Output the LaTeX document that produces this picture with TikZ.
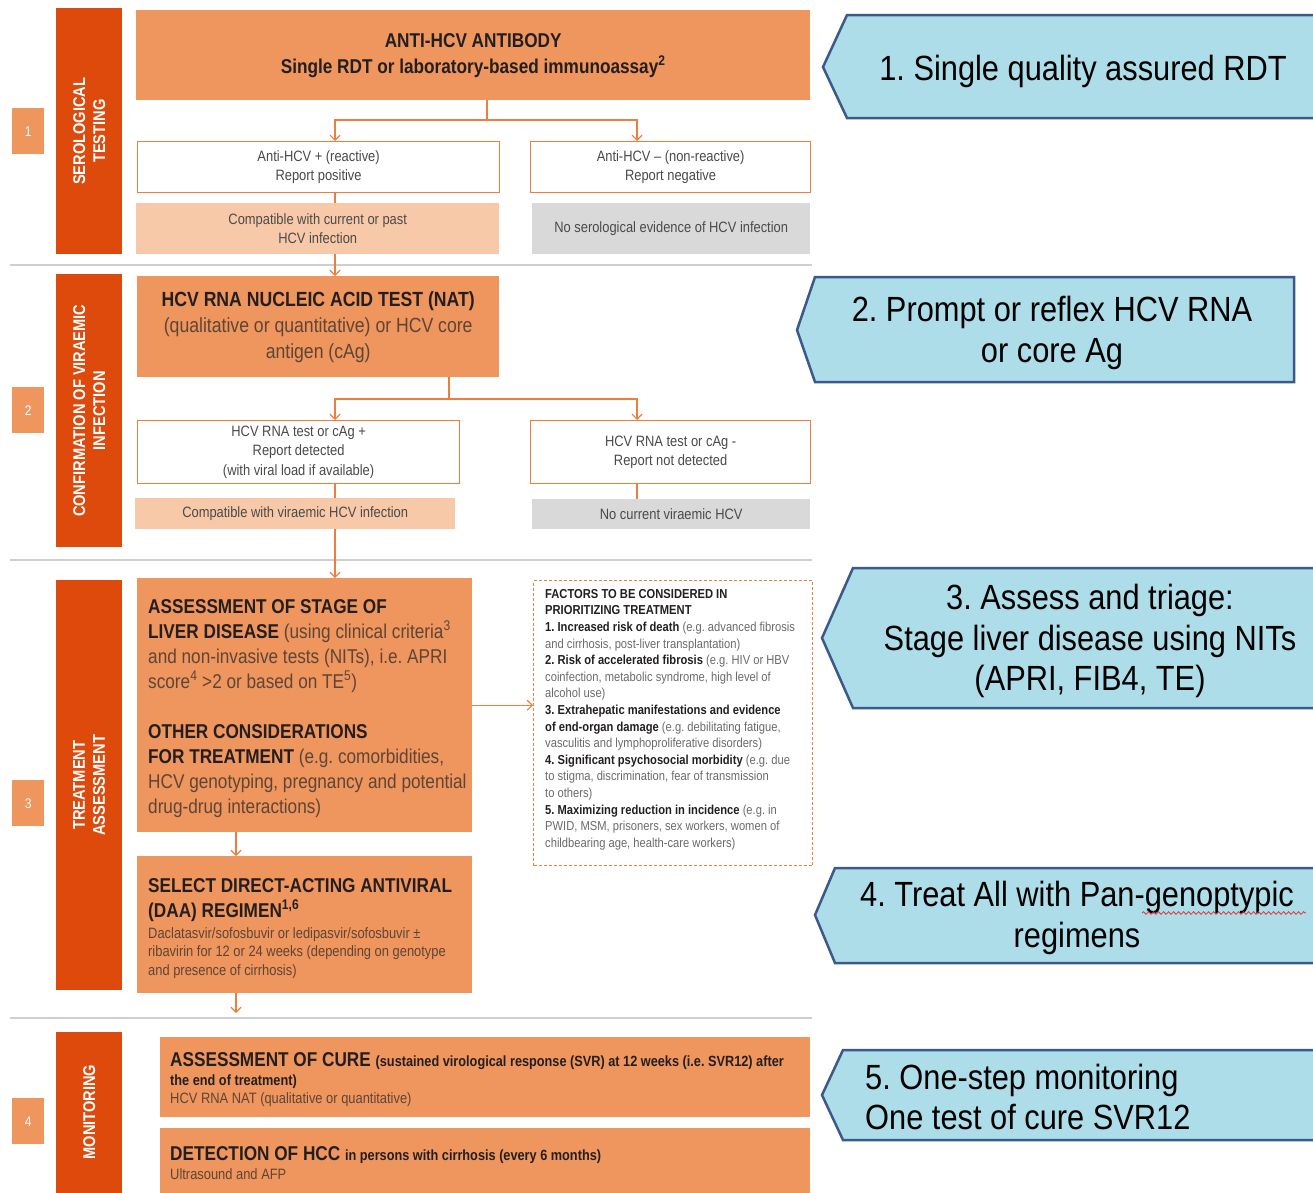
\documentclass[tikz,border=0pt]{standalone}
\usepackage{fontspec}
\usepackage{xcolor}
\usepackage{tikz}
\usetikzlibrary{arrows.meta,decorations.pathmorphing,positioning}
\newfontfamily\whofont[FakeStretch=0.86]{Liberation Sans}
\newfontfamily\cuefont[FakeStretch=0.88]{Liberation Sans}
\frenchspacing
\definecolor{whoDark}{HTML}{DE4A0C}
\definecolor{whoMid}{HTML}{EF955E}
\definecolor{whoPale}{HTML}{F8C9A8}
\definecolor{whoGrey}{HTML}{D9D9D9}
\definecolor{whoLine}{HTML}{EE7D40}
\definecolor{whoRule}{HTML}{CFCFCF}
\definecolor{whoInk}{HTML}{231F20}
\definecolor{whoSoft}{HTML}{5E4536}
\definecolor{whoNote}{HTML}{4A4A4A}
\definecolor{whoFaint}{HTML}{6A6A6A}
\definecolor{cueFill}{HTML}{ADDDE8}
\definecolor{cueDraw}{HTML}{3B5A8A}
\definecolor{cueRed}{HTML}{E03030}
\newcommand\whosoft[1]{{\mdseries\color{whoSoft}#1}}
\newcommand\whobold[1]{{\bfseries\color{whoInk}#1}}
\tikzset{
  who diagram/.style={x=1pt, y=-1pt, font=\whofont, text=whoInk},
  who bar/.style={fill=whoDark, anchor=north west, inner sep=0pt},
  who bar label/.style={rotate=90, text=white, align=center,
    font=\whofont\bfseries\fontsize{17}{20}\selectfont},
  who tab/.style={fill=whoMid, anchor=north west, minimum width=32,
    minimum height=46, inner sep=0pt, text=white,
    font=\whofont\fontsize{14}{16}\selectfont},
  who box/.style={fill=whoMid, anchor=north west, inner sep=0pt, align=center},
  who head/.style={font=\whofont\bfseries\fontsize{20}{26}\selectfont},
  who result/.style={draw=whoLine, fill=white, line width=1.2pt,
    anchor=north west, inner sep=0pt, align=center, text=whoNote,
    font=\whofont\fontsize{15}{19.5}\selectfont},
  who pale/.style={fill=whoPale, anchor=north west, inner sep=0pt,
    align=center, text=whoNote, font=\whofont\fontsize{15}{19.5}\selectfont},
  who grey/.style={who pale, fill=whoGrey},
  who text/.style={inner sep=0pt, align=left, text=whoInk,
    font=\whofont\bfseries\fontsize{20}{25}\selectfont},
  who detail/.style={inner sep=0pt, align=left, text=whoSoft,
    font=\whofont\fontsize{15}{18.5}\selectfont},
  who small/.style={inner sep=0pt, align=left, text=whoInk,
    font=\whofont\bfseries\fontsize{14.8}{18}\selectfont},
  who note/.style={inner sep=0pt, align=left, text=whoFaint,
    font=\whofont\fontsize{13}{16.6}\selectfont},
  who factors/.style={draw=whoLine, dash pattern=on 3pt off 2pt,
    line width=1pt, anchor=north west, inner sep=0pt},
  who line/.style={draw=whoLine, line width=1.2pt},
  who arrow/.style={who line, -{Straight Barb[length=5pt,width=10pt]}},
  who rule/.style={draw=whoRule, line width=2pt},
  cue/.style={fill=cueFill, draw=cueDraw, line width=2.5pt},
  cue text/.style={font=\cuefont\fontsize{35}{40.5}\selectfont, text=black,
    align=center, inner sep=0pt}
}

\begin{document}
\begin{tikzpicture}[who diagram]
\useasboundingbox (0,0) rectangle (1313,1192);
\draw[who rule] (10,265) -- (812,265);
\draw[who rule] (10,560) -- (812,560);
\draw[who rule] (10,1018) -- (812,1018);

% stage bars
\node[who bar, minimum width=66, minimum height=246] (bar1) at (56,8) {};
\node[who bar label] at (bar1) {SEROLOGICAL\\TESTING};
\node[who bar, minimum width=66, minimum height=273] (bar2) at (56,274) {};
\node[who bar label] at (bar2) {CONFIRMATION OF VIRAEMIC\\INFECTION};
\node[who bar, minimum width=66, minimum height=410] (bar3) at (56,580) {};
\node[who bar label] at (bar3) {TREATMENT\\ASSESSMENT};
\node[who bar, minimum width=66, minimum height=170] (bar4) at (56,1032) {};
\node[who bar label] at ([yshift=-80pt]bar4.north) {MONITORING};
\node[who tab] (tab1) at (12,108) {1};
\node[who tab] (tab2) at (12,387) {2};
\node[who tab] (tab3) at (12,780) {3};
\node[who tab] (tab4) at (12,1098) {4};

% serological testing
\node[who box, who head, minimum width=674, minimum height=90] (anti) at (136,10)
  {ANTI-HCV ANTIBODY\\Single RDT or laboratory-based immunoassay\textsuperscript{2}};
\node[who result, minimum width=362, minimum height=51] (pos) at (137,141)
  {Anti-HCV + (reactive)\\Report positive};
\node[who result, minimum width=280, minimum height=51] (neg) at (530,141)
  {Anti-HCV – (non-reactive)\\Report negative};
\node[who pale, minimum width=363, minimum height=51] (compat) at (136,203)
  {Compatible with current or past\\HCV infection};
\node[who grey, minimum width=278, minimum height=51] (noser) at (532,203)
  {No serological evidence of HCV infection};

% viraemic infection
\node[who box, minimum width=362, minimum height=101,
  font=\whofont\fontsize{20.5}{26}\selectfont] (nat) at (137,276)
  {\textbf{HCV RNA NUCLEIC ACID TEST (NAT)}\\
   \whosoft{(qualitative or quantitative) or HCV core}\\\whosoft{antigen (cAg)}};
\node[who result, minimum width=322, minimum height=63] (det) at (137,420)
  {HCV RNA test or cAg +\\Report detected\\(with viral load if available)};
\node[who result, minimum width=280, minimum height=63] (ndet) at (530,420)
  {HCV RNA test or cAg -\\Report not detected};
\node[who pale, minimum width=320, minimum height=31] (viraemic) at (135,498)
  {Compatible with viraemic HCV infection};
\node[who grey, minimum width=278, minimum height=30] (nocur) at (532,499)
  {No current viraemic HCV};

% treatment assessment
\node[who box, minimum width=335, minimum height=254] (assess) at (137,578) {};
\node[who text, anchor=north west] (assesstxt) at (148,599)
  {ASSESSMENT OF STAGE OF\\
   LIVER DISEASE \whosoft{(using clinical criteria\textsuperscript{3}}\\
   \whosoft{and non-invasive tests (NITs), i.e. APRI}\\
   \whosoft{score\textsuperscript{4} >2 or based on TE\textsuperscript{5})}\\[25pt]
   OTHER CONSIDERATIONS\\
   FOR TREATMENT \whosoft{(e.g. comorbidities,}\\
   \whosoft{HCV genotyping, pregnancy and potential}\\
   \whosoft{drug-drug interactions)}};
\node[who factors, minimum width=279, minimum height=285] (factors) at (533,580) {};
\node[who note, anchor=north west] (factorstxt) at (545,589)
  {\whobold{FACTORS TO BE CONSIDERED IN}\\
   \whobold{PRIORITIZING TREATMENT}\\
   \whobold{1. Increased risk of death} (e.g. advanced fibrosis\\
   and cirrhosis, post-liver transplantation)\\
   \whobold{2. Risk of accelerated fibrosis} (e.g. HIV or HBV\\
   coinfection, metabolic syndrome, high level of\\
   alcohol use)\\
   \whobold{3. Extrahepatic manifestations and evidence}\\
   \whobold{of end-organ damage} (e.g. debilitating fatigue,\\
   vasculitis and lymphoproliferative disorders)\\
   \whobold{4. Significant psychosocial morbidity} (e.g. due\\
   to stigma, discrimination, fear of transmission\\
   to others)\\
   \whobold{5. Maximizing reduction in incidence} (e.g. in\\
   PWID, MSM, prisoners, sex workers, women of\\
   childbearing age, health-care workers)};
\node[who box, minimum width=335, minimum height=137] (daa) at (137,856) {};
\node[who text, anchor=north west] (daahead) at (148,878)
  {SELECT DIRECT-ACTING ANTIVIRAL\\(DAA) REGIMEN\textsuperscript{1,6}};
\node[who detail, anchor=north west] (daadetail) at (148,927)
  {Daclatasvir/sofosbuvir or ledipasvir/sofosbuvir ±\\
   ribavirin for 12 or 24 weeks (depending on genotype\\
   and presence of cirrhosis)};

% monitoring
\node[who box, minimum width=650, minimum height=80] (cure) at (160,1037) {};
\node[who text, anchor=base west] (curehead) at (170,1066)
  {ASSESSMENT OF CURE {\fontsize{14.8}{18}\selectfont (sustained virological response (SVR) at 12 weeks (i.e. SVR12) after}};
\node[who small, anchor=base west] (curemore) at (170,1085) {the end of treatment)};
\node[who detail, anchor=base west] (curedetail) at (170,1103)
  {HCV RNA NAT (qualitative or quantitative)};
\node[who box, minimum width=650, minimum height=75] (hcc) at (160,1128) {};
\node[who text, anchor=base west] (hcchead) at (170,1160)
  {DETECTION OF HCC {\fontsize{14.8}{18}\selectfont in persons with cirrhosis (every 6 months)}};
\node[who detail, anchor=base west] (hccdetail) at (170,1179) {Ultrasound and AFP};

% connectors
\coordinate (colA) at (335,0);
\coordinate (colB) at (637,0);
\coordinate (colC) at (236,0);
\coordinate (fork1) at (487,120);
\coordinate (fork2) at (449,399);
\coordinate (exit) at (236,1013);
\draw[who line] (anti.south -| fork1) -- (fork1);
\draw[who arrow] (fork1) -| (pos.north -| colA);
\draw[who arrow] (fork1) -| (neg.north -| colB);
\draw[who line] (pos.south -| colA) -- (compat.north -| colA);
\draw[who arrow] (compat.south -| colA) -- (nat.north -| colA);
\draw[who line] (nat.south -| fork2) -- (fork2);
\draw[who arrow] (fork2) -| (det.north -| colA);
\draw[who arrow] (fork2) -| (ndet.north -| colB);
\draw[who line] (det.south -| colA) -- (viraemic.north -| colA);
\draw[who line] (ndet.south -| colB) -- (nocur.north -| colB);
\draw[who arrow] (viraemic.south -| colA) -- (assess.north -| colA);
\draw[who arrow] (assess.east) -- (assess.east -| factors.west);
\draw[who arrow] (assess.south -| colC) -- (daa.north -| colC);
\draw[who arrow] (daa.south -| colC) -- (exit);

% simplified steps
\draw[cue] (823,67) -- (847,15) -- (1330,15) -- (1330,118) -- (847,118) -- cycle;
\draw[cue] (797,330) -- (815,277) -- (1294,277) -- (1294,382) -- (815,382) -- cycle;
\draw[cue] (822,638) -- (853,568) -- (1330,568) -- (1330,708) -- (853,708) -- cycle;
\draw[cue] (815,915) -- (835,868) -- (1330,868) -- (1330,963) -- (835,963) -- cycle;
\draw[cue] (822,1095) -- (843,1050) -- (1330,1050) -- (1330,1140) -- (843,1140) -- cycle;
\node[cue text, anchor=base] (cue1) at (1083,80) {1. Single quality assured RDT};
\node[cue text] (cue2) at (1052,333) {2. Prompt or reflex HCV RNA\\or core Ag};
\node[cue text] (cue3) at (1090,641) {3. Assess and triage:\\Stage liver disease using NITs\\(APRI, FIB4, TE)};
\node[cue text] (cue4) at (1077,918) {4. Treat All with Pan-genoptypic\\regimens};
\node[cue text, anchor=west, align=left] (cue5) at (865,1097) {5. One-step monitoring\\One test of cure SVR12};
\draw[cueRed, line width=0.8pt, decorate,
  decoration={snake, amplitude=1.3pt, segment length=5pt}] (1142,913) -- (1306,913);
\end{tikzpicture}
\end{document}
